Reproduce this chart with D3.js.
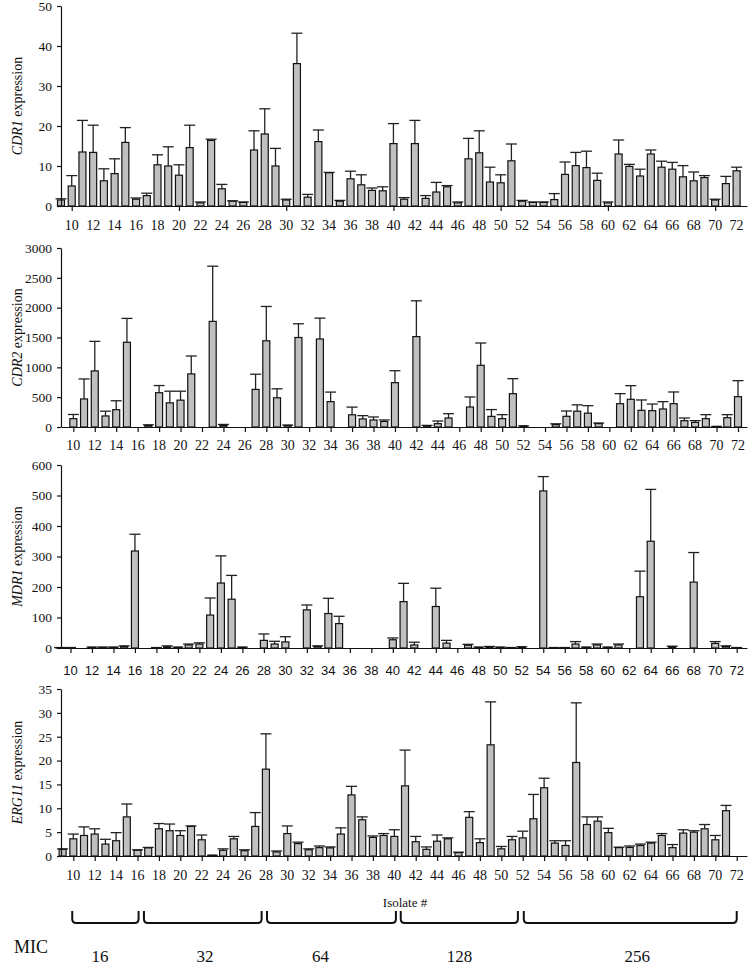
<!DOCTYPE html>
<html><head><meta charset="utf-8">
<script src="https://cdn.jsdelivr.net/npm/d3@7"></script>
<style>body{margin:0;background:#fff}svg{display:block}</style>
</head><body>
<svg id="c" width="750" height="967"></svg>
<script>
// ---------- data ----------
const isolates = d3.range(9, 73);               // isolate numbers 9..72
const isolateLabels = d3.range(10, 73, 2);      // 10,12,...,72

const cdr1Mean = [1.5,5.0,13.5,13.4,6.3,8.1,15.9,1.7,2.6,10.3, 10.0,7.7,14.6,0.8,16.4,4.3,1.2,0.9,14.0,18.0, 10.0,1.5,35.6,2.2,16.1,8.3,1.2,6.8,5.3,3.9, 3.8,15.6,1.7,15.6,1.9,3.5,4.8,0.8,11.8,13.3, 6.0,5.8,11.3,1.2,0.9,0.9,1.6,7.9,10.1,9.6, 6.4,0.8,13.0,9.9,7.5,13.0,9.7,9.2,7.3,6.3, 7.1,1.5,5.6,8.8];
const cdr1Err  = [0.3,2.6,7.9,6.8,3.0,3.7,3.7,0.3,0.6,2.5, 4.8,2.6,5.6,0.2,0.3,1.1,0.1,0.1,4.8,6.3, 4.4,0.2,7.6,0.7,2.9,0.1,0.2,1.9,2.5,0.6, 1.0,5.0,0.4,5.8,0.7,2.4,0.3,0.2,5.1,5.5, 3.7,2.0,4.2,0.2,0.1,0.1,1.5,3.1,3.3,4.1, 1.8,0.2,3.5,0.5,1.7,1.0,1.5,1.7,2.8,2.2, 0.5,0.2,1.8,0.9];

const cdr2Mean = [0,140,470,940,185,290,1420,0,25,575, 405,450,890,0,1770,25,0,0,630,1445, 490,25,1500,0,1475,425,0,205,135,118, 93,743,0,1515,22,56,151,0,335,1034, 178,140,559,15,0,0,40,179,265,232, 56,0,391,464,279,274,302,391,106,78, 140,8,156,508];
const cdr2Err  = [0,70,335,495,80,150,400,0,12,120, 195,150,300,0,925,18,0,0,255,575, 150,8,230,0,350,160,0,128,55,50, 25,200,0,600,5,44,72,0,168,374, 114,67,251,4,0,0,14,89,106,125, 11,0,168,229,174,111,123,196,45,28, 67,2,51,269];

const mdr1Mean = [1,1,0,2,2,2,5,318,0,1, 4,2,10,13,108,213,160,2,0,25, 13,20,0,125,5,113,80,0,0,0, 0,27,152,10,0,136,16,0,9,2, 4,2,1,3,0,515,1,1,13,2, 10,2,10,0,168,350,0,4,0,216, 0,15,5,1];
const mdr1Err  = [0.5,0.5,0,1,1,1,2,55,0,0.5, 3,1,3,4,56,89,78,1,0,21, 9,17,0,16,2,50,24,0,0,0, 0,6,60,9,0,60,9,0,3,1, 1,1,0.5,1,0,47,0.5,0.5,8,1, 3,1,3,0,84,170,0,2,0,97, 0,6,2,0.5];

const erg11Mean = [1.4,3.6,4.3,4.6,2.5,3.2,8.2,1.2,1.7,5.7, 5.3,4.3,6.2,3.4,0.15,1.2,3.6,1.1,6.2,18.2, 0.85,4.7,2.6,1.3,1.75,1.7,4.6,12.8,7.6,3.9, 4.3,4.1,14.7,3.0,1.4,3.1,3.6,0.7,8.1,2.8, 23.3,1.5,3.4,3.8,7.8,14.3,2.7,2.2,19.6,6.6, 7.3,4.9,1.75,1.8,2.2,2.7,4.3,1.75,4.8,5.0, 5.7,3.4,9.5,0];
const erg11Err  = [0.1,1.0,1.8,1.1,1.0,1.7,2.7,0.1,0.1,1.1, 1.4,1.0,0.1,1.0,0,0.3,0.5,0.2,2.9,7.4, 0.2,1.6,0.3,0.2,0.35,0.2,1.3,1.8,0.6,0.3, 0.4,1.4,7.5,1.1,0.5,1.3,0.2,0.1,1.2,0.8, 9.0,0.5,0.7,1.4,5.1,2.0,0.5,1.0,12.5,1.6, 0.9,0.9,0.1,0.3,0.3,0.2,0.4,0.65,0.7,0.3, 0.9,0.9,1.1,0];

const micValues  = ["16","32","64","128","256"];
const micFrom    = [9.9, 16.6, 28.1, 40.6, 52.1];   // isolate-space extents of the brackets
const micTo      = [16.1, 27.6, 40.15, 51.55, 72.0];
const micLabelAt = [12.5, 22.3, 33.1, 46.1, 62.7];  // isolate-space label centres

// ---------- layout ----------
const serif = "'Liberation Serif','Times New Roman',Times,serif";
const sans  = "'Liberation Sans',Arial,Helvetica,sans-serif";
const AX_L = 61, AX_R = 747;

const panels = [
  {gene:"CDR1",  mean:cdr1Mean,  err:cdr1Err,  yMax:50,   yStep:10,  top:6,   base:206, xDom:[9.0,72.97],  xTicks:d3.range(10,71,10), labY:230, labFont:serif, labSize:14},
  {gene:"CDR2",  mean:cdr2Mean,  err:cdr2Err,  yMax:3000, yStep:500, top:248, base:427, xDom:[8.85,72.84], xTicks:isolateLabels,      labY:450, labFont:serif, labSize:14},
  {gene:"MDR1",  mean:mdr1Mean,  err:mdr1Err,  yMax:600,  yStep:100, top:465, base:648, xDom:[9.12,72.96], xTicks:isolateLabels,      labY:675, labFont:sans,  labSize:13},
  {gene:"ERG11", mean:erg11Mean, err:erg11Err, yMax:35,   yStep:5,   top:689, base:856, xDom:[8.85,72.96], xTicks:isolateLabels,      labY:880, labFont:serif, labSize:14}
];

const svg = d3.select("#c");
const BW = 7, CW = 11;
let lastX;

panels.forEach(p => {
  const x = d3.scaleLinear().domain(p.xDom).range([AX_L, AX_R]);
  const y = d3.scaleLinear().domain([0, p.yMax]).range([p.base, p.top]);
  lastX = x;
  const g = svg.append("g");
  const rows = isolates.map((iso, i) => ({iso, m:p.mean[i], e:p.err[i]}));

  // error bars (upper only)
  g.selectAll("line.eb").data(rows.filter(d => d.m > 0 && d.e > 0)).join("line")
    .attr("x1", d => x(d.iso)).attr("x2", d => x(d.iso))
    .attr("y1", d => y(d.m)).attr("y2", d => y(d.m + d.e))
    .attr("stroke", "#222").attr("stroke-width", 1.3);
  g.selectAll("line.cap").data(rows.filter(d => d.m > 0)).join("line")
    .attr("x1", d => x(d.iso) - CW/2).attr("x2", d => x(d.iso) + CW/2)
    .attr("y1", d => y(d.m + d.e)).attr("y2", d => y(d.m + d.e))
    .attr("stroke", "#222").attr("stroke-width", 1.3);
  // bars
  g.selectAll("rect").data(rows.filter(d => d.m > 0)).join("rect")
    .attr("x", d => x(d.iso) - BW/2).attr("width", BW)
    .attr("y", d => y(d.m)).attr("height", d => Math.max(0.01, p.base - y(d.m)))
    .attr("fill", "#c0c0c0").attr("stroke", "#111").attr("stroke-width", 1.2);

  // y axis
  const ya = g.append("g").attr("transform", `translate(${AX_L},0)`)
    .call(d3.axisLeft(y).tickValues(d3.range(0, p.yMax + 0.001, p.yStep)).tickSize(4).tickSizeOuter(0).tickPadding(5).tickFormat(d3.format("d")));
  ya.select(".domain").attr("stroke", "#111").attr("stroke-width", 1.2);
  ya.selectAll(".tick line").attr("stroke", "#111").attr("stroke-width", 1.2);
  ya.selectAll("text").attr("font-family", serif).attr("font-size", 13.5).attr("fill", "#111");

  // x axis (tick marks only)
  const xa = g.append("g").attr("transform", `translate(0,${p.base})`)
    .call(d3.axisBottom(x).tickValues(p.xTicks).tickSize(5).tickSizeOuter(0).tickFormat(""));
  xa.select(".domain").attr("stroke", "#111").attr("stroke-width", 1.2);
  xa.selectAll(".tick line").attr("stroke", "#111").attr("stroke-width", 1.2);

  // x labels
  g.selectAll("text.xl").data(isolateLabels).join("text")
    .attr("x", d => x(d)).attr("y", p.labY)
    .attr("text-anchor", "middle")
    .attr("font-family", p.labFont).attr("font-size", p.labSize).attr("fill", "#111")
    .text(d => d);

  // y title
  const t = g.append("text")
    .attr("transform", `translate(22,${(p.top + p.base)/2}) rotate(-90)`)
    .attr("text-anchor", "middle")
    .attr("font-family", serif).attr("font-size", 14).attr("fill", "#111");
  t.append("tspan").attr("font-style", "italic").text(p.gene);
  t.append("tspan").text(" expression");
});

// Isolate # label
svg.append("text").attr("x", 405).attr("y", 907).attr("text-anchor", "middle")
  .attr("font-family", serif).attr("font-size", 13).attr("fill", "#111").text("Isolate #");

// MIC brackets
const bTop = 911, bBot = 923, r = 4;
micValues.forEach((v, i) => {
  const x0 = lastX(micFrom[i]), x1 = lastX(micTo[i]);
  svg.append("path")
    .attr("d", `M${x0},${bTop} L${x0},${bBot - r} Q${x0},${bBot} ${x0 + r},${bBot} L${x1 - r},${bBot} Q${x1},${bBot} ${x1},${bBot - r} L${x1},${bTop}`)
    .attr("fill", "none").attr("stroke", "#111").attr("stroke-width", 2);
  svg.append("text").attr("x", lastX(micLabelAt[i])).attr("y", 962).attr("text-anchor", "middle")
    .attr("font-family", serif).attr("font-size", 17).attr("fill", "#111").text(v);
});
svg.append("text").attr("x", 14).attr("y", 953)
  .attr("font-family", serif).attr("font-size", 18).attr("fill", "#111").text("MIC");
</script>
</body></html>
